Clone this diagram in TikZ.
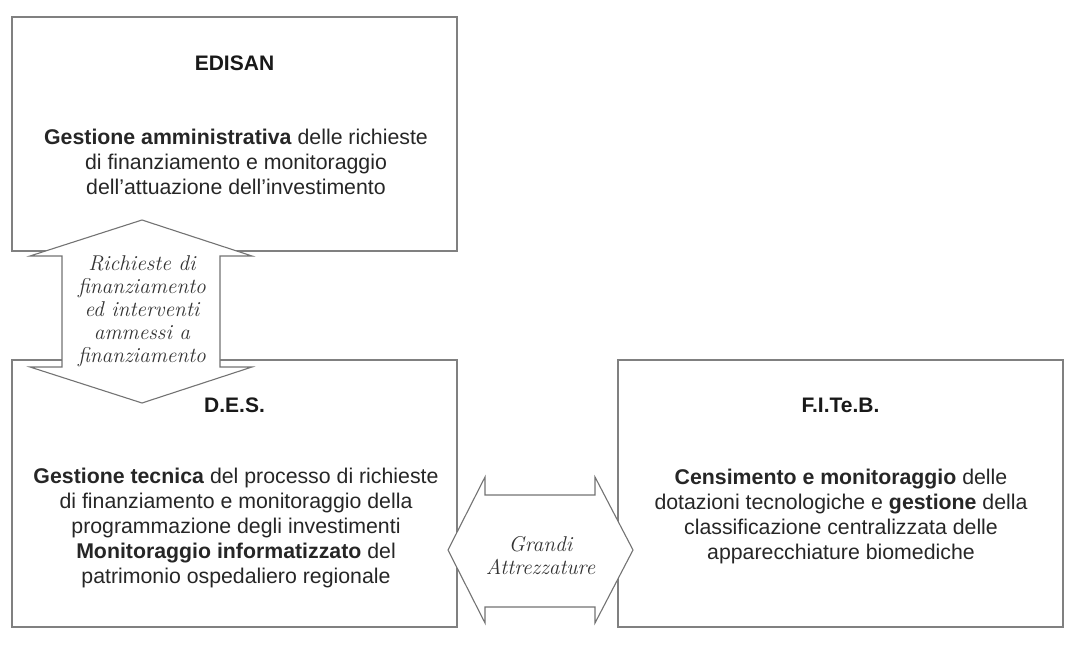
\documentclass[tikz,border=0pt]{standalone}
\usepackage{fontspec}
\setsansfont{Liberation Sans}
\usetikzlibrary{positioning}

\begin{document}
\begin{tikzpicture}[x=1pt,y=-1pt,font=\sffamily\fontsize{21.3}{25}\selectfont,
		box/.style={draw=black!50,line width=1.4pt,minimum width=445pt,minimum height=267pt,inner sep=0pt},
		title/.style={font=\sffamily\bfseries\fontsize{21}{25}\selectfont,text=black!90},
		body/.style={align=center,text=black!85},
		block/.style={draw=black!55,line width=1.1pt,fill=white,line join=miter},
		blocktext/.style={align=center,font=\rmfamily\itshape\fontsize{21.4}{23}\selectfont,text=black!80}]
		\useasboundingbox (0,0) rectangle (1091,660);
		% boxes
		\node[box,minimum height=234pt] (edisan) at (234.5,134) {};
		\node[box] (des) at (234.5,493.5) {};
		\node[box] (fiteb) at (840.5,493.5) {};
		% titles
		\node[title] (edisan-t) at (234.5,63) {EDISAN};
		\node[title] (des-t) at (234.5,405) {D.E.S.};
		\node[title] (fiteb-t) at (840.5,405) {F.I.Te.B.};
		% texts
		\node[body] (edisan-b) at (236,162) {\textbf{Gestione amministrativa} delle richieste\\
			di finanziamento e monitoraggio\\ dell'attuazione dell'investimento};
		\node[body] (des-b) at (236,528) {\textbf{Gestione tecnica} del processo di richieste\\
			di finanziamento e monitoraggio della\\ programmazione degli investimenti\\
			\textbf{Monitoraggio informatizzato} del\\ patrimonio ospedaliero regionale};
		\node[body] (fiteb-b) at (841,516) {\textbf{Censimento e monitoraggio} delle\\
			dotazioni tecnologiche e \textbf{gestione} della\\ classificazione centralizzata delle\\
			apparecchiature biomediche};
		% block arrows
		\draw[block] (142,220) -- (252,256) -- (220,256) -- (220,367) -- (252,367) -- (142,403)
			-- (30,367) -- (62,367) -- (62,256) -- (30,256) -- cycle;
		\draw[block] (448,550) -- (485,477) -- (485,495) -- (595,495) -- (595,477) -- (633,550)
			-- (595,623) -- (595,607) -- (485,607) -- (485,623) -- cycle;
		\node[blocktext] (richieste) at (142,311) {Richieste di\\ finanziamento\\ ed interventi\\
			ammessi a\\ finanziamento};
		\node[blocktext] (grandi) at (540.5,556) {Grandi\\ Attrezzature};
\end{tikzpicture}
\end{document}
